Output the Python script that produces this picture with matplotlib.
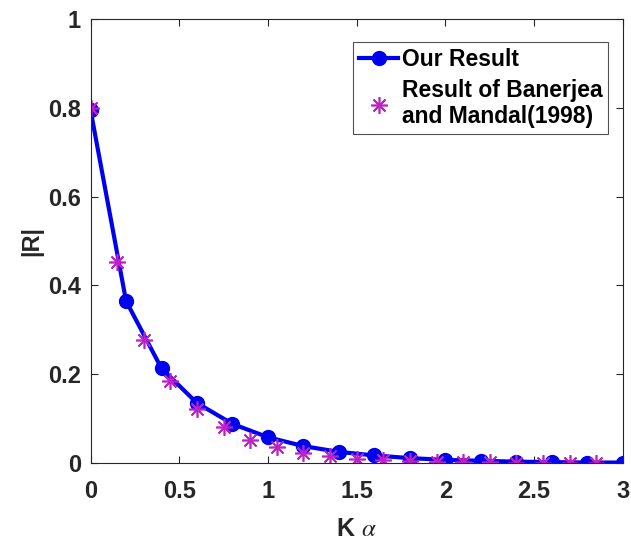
import matplotlib
matplotlib.use("Agg")
import matplotlib.pyplot as plt

plt.rcParams["font.family"] = ["Liberation Sans", "DejaVu Sans"]
plt.rcParams["mathtext.fontset"] = "stix"

# our result (circles, every 0.2)
ka_ours = [0.0, 0.2, 0.4, 0.6, 0.8, 1.0, 1.2, 1.4, 1.6, 1.8, 2.0, 2.2, 2.4, 2.6, 2.8, 3.0]
r_ours = [0.795, 0.365, 0.213, 0.135, 0.088, 0.058, 0.038, 0.025, 0.017, 0.011,
          0.007, 0.005, 0.003, 0.002, 0.001, 0.001]

# Banerjea and Mandal (1998), stars every 0.15
ka_bm = [0.0, 0.15, 0.3, 0.45, 0.6, 0.75, 0.9, 1.05, 1.2, 1.35, 1.5, 1.65, 1.8, 1.95,
         2.1, 2.25, 2.4, 2.55, 2.7, 2.85]
r_bm = [0.80, 0.452, 0.277, 0.185, 0.122, 0.080, 0.052, 0.035, 0.022, 0.015, 0.010,
        0.007, 0.004, 0.003, 0.002, 0.002, 0.001, 0.001, 0.001, 0.001]

fig = plt.figure(figsize=(6.31, 5.4), dpi=100)
ax = fig.add_axes([0.1435, 0.1426, 0.8435, 0.8222])

ax.plot(ka_ours, r_ours, "-o", color="#0000f0", lw=3, ms=10, label="Our Result")
ax.plot(ka_bm, r_bm, ls="none", marker=(8, 2, 0), ms=12, mew=1.2, color="#c020c8",
        label="Result of Banerjea\nand Mandal(1998)")

ax.set_xlim(0, 3)
ax.set_ylim(0, 1)
ax.set_xticks([0, 0.5, 1, 1.5, 2, 2.5, 3])
ax.set_xticklabels(["0", "0.5", "1", "1.5", "2", "2.5", "3"])
ax.set_yticks([0, 0.2, 0.4, 0.6, 0.8, 1])
ax.set_yticklabels(["0", "0.2", "0.4", "0.6", "0.8", "1"])
ax.tick_params(direction="in", top=True, right=True, length=5, width=0.8,
               labelsize=17, colors="#262626")
ax.tick_params(axis="x", pad=12)
ax.tick_params(axis="y", pad=7)
for lab in ax.get_xticklabels() + ax.get_yticklabels():
    lab.set_fontweight("bold")
for s in ax.spines.values():
    s.set_color("#262626")
    s.set_linewidth(0.8)

ax.set_xlabel(r"K $\alpha$", fontsize=18, fontweight="bold", color="#262626", labelpad=10)
ax.set_ylabel("|R|", fontsize=17, fontweight="bold", color="#262626", labelpad=3)

leg = ax.legend(loc="upper right", bbox_to_anchor=(0.972, 0.948),
                prop={"weight": "bold", "size": 16.5}, frameon=True, fancybox=False,
                handlelength=1.7, handletextpad=0.15, borderpad=0.25, labelspacing=0.35,
                borderaxespad=0)
leg.get_frame().set_edgecolor("#262626")
leg.get_frame().set_linewidth(0.8)

fig.savefig("out.png", dpi=100)
